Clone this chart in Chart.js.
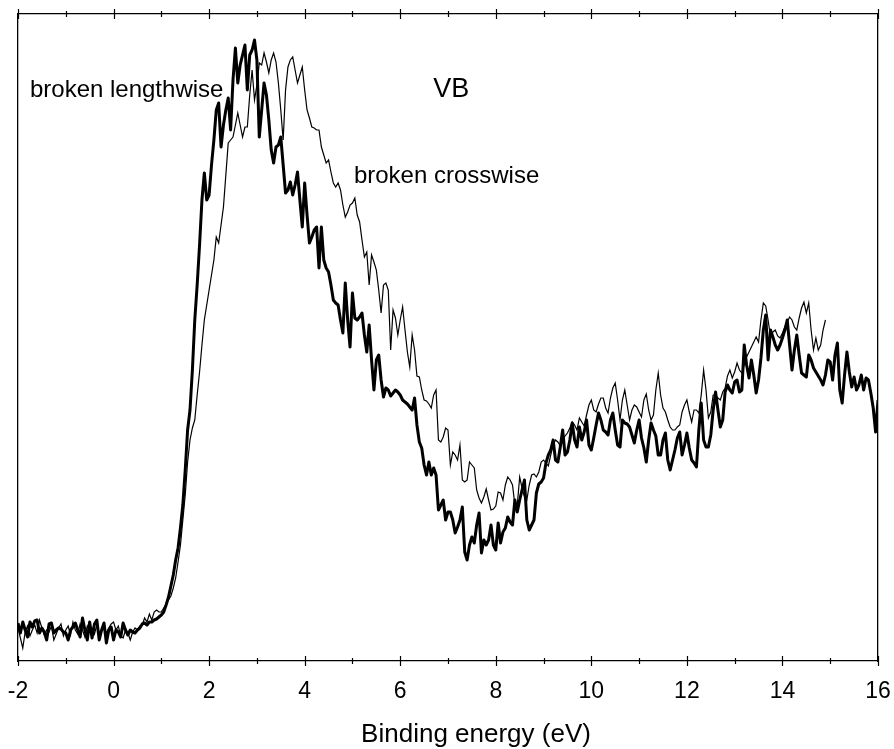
<!DOCTYPE html>
<html>
<head>
<meta charset="utf-8">
<title>VB spectra</title>
<script src="https://cdn.jsdelivr.net/npm/chart.js@4.4.1/dist/chart.umd.min.js"></script>
<style>
  html, body { margin: 0; padding: 0; background: #fff; }
  canvas { display: block; }
</style>
</head>
<body>
<canvas id="vb" width="894" height="749"></canvas>
<script>
// binding energy (eV), 0.05 eV steps
var energy = [
  -2.00,-1.95,-1.90,-1.85,-1.80,-1.75,-1.70,-1.65,-1.60,-1.55,
  -1.50,-1.45,-1.40,-1.35,-1.30,-1.25,-1.20,-1.15,-1.10,-1.05,
  -1.00,-0.95,-0.90,-0.85,-0.80,-0.75,-0.70,-0.65,-0.60,-0.55,
  -0.50,-0.45,-0.40,-0.35,-0.30,-0.25,-0.20,-0.15,-0.10,-0.05,
  0.00,0.05,0.10,0.15,0.20,0.25,0.30,0.35,0.40,0.45,
  0.50,0.55,0.60,0.65,0.70,0.75,0.80,0.85,0.90,0.95,
  1.00,1.05,1.10,1.15,1.20,1.25,1.30,1.35,1.40,1.45,
  1.50,1.55,1.60,1.65,1.70,1.75,1.80,1.85,1.90,1.95,
  2.00,2.05,2.10,2.15,2.20,2.25,2.30,2.35,2.40,2.45,
  2.50,2.55,2.60,2.65,2.70,2.75,2.80,2.85,2.90,2.95,
  3.00,3.05,3.10,3.15,3.20,3.25,3.30,3.35,3.40,3.45,
  3.50,3.55,3.60,3.65,3.70,3.75,3.80,3.85,3.90,3.95,
  4.00,4.05,4.10,4.15,4.20,4.25,4.30,4.35,4.40,4.45,
  4.50,4.55,4.60,4.65,4.70,4.75,4.80,4.85,4.90,4.95,
  5.00,5.05,5.10,5.15,5.20,5.25,5.30,5.35,5.40,5.45,
  5.50,5.55,5.60,5.65,5.70,5.75,5.80,5.85,5.90,5.95,
  6.00,6.05,6.10,6.15,6.20,6.25,6.30,6.35,6.40,6.45,
  6.50,6.55,6.60,6.65,6.70,6.75,6.80,6.85,6.90,6.95,
  7.00,7.05,7.10,7.15,7.20,7.25,7.30,7.35,7.40,7.45,
  7.50,7.55,7.60,7.65,7.70,7.75,7.80,7.85,7.90,7.95,
  8.00,8.05,8.10,8.15,8.20,8.25,8.30,8.35,8.40,8.45,
  8.50,8.55,8.60,8.65,8.70,8.75,8.80,8.85,8.90,8.95,
  9.00,9.05,9.10,9.15,9.20,9.25,9.30,9.35,9.40,9.45,
  9.50,9.55,9.60,9.65,9.70,9.75,9.80,9.85,9.90,9.95,
  10.00,10.05,10.10,10.15,10.20,10.25,10.30,10.35,10.40,10.45,
  10.50,10.55,10.60,10.65,10.70,10.75,10.80,10.85,10.90,10.95,
  11.00,11.05,11.10,11.15,11.20,11.25,11.30,11.35,11.40,11.45,
  11.50,11.55,11.60,11.65,11.70,11.75,11.80,11.85,11.90,11.95,
  12.00,12.05,12.10,12.15,12.20,12.25,12.30,12.35,12.40,12.45,
  12.50,12.55,12.60,12.65,12.70,12.75,12.80,12.85,12.90,12.95,
  13.00,13.05,13.10,13.15,13.20,13.25,13.30,13.35,13.40,13.45,
  13.50,13.55,13.60,13.65,13.70,13.75,13.80,13.85,13.90,13.95,
  14.00,14.05,14.10,14.15,14.20,14.25,14.30,14.35,14.40,14.45,
  14.50,14.55,14.60,14.65,14.70,14.75,14.80,14.85,14.90,14.95,
  15.00,15.05,15.10,15.15,15.20,15.25,15.30,15.35,15.40,15.45,
  15.50,15.55,15.60,15.65,15.70,15.75,15.80,15.85,15.90,15.95,
  16.00
];

// intensity, arbitrary units (thick curve)
var lengthwise = [
  38,28,39,31,24,39,34,40,41,28,
  33,29,21,37,38,28,31,33,32,29,
  28,21,31,34,38,31,24,43,31,21,
  39,23,37,41,21,31,38,18,31,34,
  21,31,29,24,38,31,26,31,29,28,
  31,33,37,38,36,39,39,41,42,44,
  46,49,56,64,75,86,101,113,133,156,
  191,231,251,291,341,376,416,461,488,461,
  466,496,521,551,558,514,536,551,563,531,
  581,613,578,596,606,616,571,606,611,621,
  601,524,551,578,566,541,511,498,514,516,
  524,496,468,471,479,466,476,489,461,434,
  478,446,418,424,431,434,393,434,401,393,
  389,376,361,358,356,341,328,378,341,314,
  368,343,341,344,348,326,309,336,301,271,
  301,306,281,264,273,271,265,268,271,269,
  266,261,259,257,254,251,263,236,219,213,
  196,186,199,186,193,186,151,156,161,141,
  149,149,141,128,134,141,154,109,101,116,
  124,118,136,148,108,121,116,121,136,116,
  111,138,118,129,133,144,139,136,161,149,
  161,171,181,141,131,136,141,168,177,179,
  183,198,206,211,221,201,199,214,231,206,
  209,221,238,221,214,234,221,229,241,216,
  211,223,236,248,241,231,229,226,241,248,
  231,216,214,241,238,237,234,226,218,231,
  241,223,213,199,221,238,231,225,206,206,
  221,228,201,191,201,211,223,229,206,216,
  228,213,201,198,194,231,258,221,214,214,
  226,251,269,251,234,241,269,276,271,268,
  279,281,269,271,316,296,283,301,286,268,
  281,303,331,346,301,331,324,316,311,316,
  323,331,341,316,291,311,326,306,288,286,
  284,306,301,293,289,285,281,276,286,301,
  299,281,306,318,271,258,286,309,289,274,
  284,271,276,286,271,283,281,268,253,229,
  261
];

// intensity, arbitrary units (thin curve, ends near 14.9 eV)
var crosswise = [
  33,23,13,29,35,25,31,36,28,41,
  33,26,31,29,35,21,27,33,37,25,
  31,35,26,39,31,27,37,31,24,35,
  29,33,27,36,23,31,34,28,33,37,
  39,31,35,25,23,31,28,21,29,33,
  31,35,36,43,39,47,41,49,51,49,
  49,53,57,61,65,73,83,99,116,141,
  166,199,221,233,241,266,289,316,341,356,
  371,386,401,424,418,436,454,486,518,521,
  524,536,548,536,524,534,534,566,591,561,
  576,598,596,608,599,588,601,608,599,578,
  551,521,571,594,601,604,591,578,586,594,
  571,551,543,534,533,531,531,514,506,498,
  501,489,478,474,478,471,456,444,449,456,
  458,463,446,439,421,404,409,376,406,399,
  391,371,348,376,378,371,311,351,343,326,
  341,354,331,309,294,326,311,285,284,271,
  261,260,257,253,266,271,221,219,224,233,
  231,196,209,206,201,216,181,179,181,199,
  196,193,171,163,158,164,172,161,151,152,
  155,169,168,161,176,184,181,176,156,156,
  184,173,164,161,176,186,187,184,189,199,
  201,198,195,206,216,221,219,215,221,225,
  228,233,239,236,231,243,239,235,246,256,
  261,251,249,257,263,263,253,248,263,273,
  278,261,241,261,271,256,241,251,256,254,
  249,244,261,267,251,241,246,271,288,266,
  253,249,241,234,231,231,234,236,249,256,
  261,249,239,251,251,248,266,291,271,243,
  249,266,266,263,261,269,273,285,291,283,
  289,298,291,288,296,304,309,314,319,324,
  319,341,358,355,341,324,329,331,325,323,
  328,334,339,344,341,334,331,343,353,359,
  348,358,331,311,323,311,316,331,341,null,
  null,null,null,null,null,null,null,null,null,null,
  null,null,null,null,null,null,null,null,null,null,
  null
];

var xTicks = [-2, 0, 2, 4, 6, 8, 10, 12, 14, 16];

var notes = [
  { text: "broken lengthwise", x: -1.75, y: 564, size: 24 },
  { text: "VB", x: 6.69, y: 564, size: 27 },
  { text: "broken crosswise", x: 5.03, y: 478, size: 24 }
];

var FONT = "'Liberation Sans', Arial, Helvetica, sans-serif";

function toPoints(xs, ys) {
  return xs.map(function (x, i) { return { x: x, y: ys[i] }; });
}

// ticks that cross the top and bottom frame, plus the text notes
var framePlugin = {
  id: "frame",
  afterDraw: function (chart) {
    var ctx = chart.ctx;
    var a = chart.chartArea;
    var xs = chart.scales.x;
    var ys = chart.scales.y;
    ctx.save();
    ctx.strokeStyle = "#000";
    ctx.lineWidth = 1.2;
    for (var v = -2; v <= 16; v++) {
      var px = Math.round(xs.getPixelForValue(v)) + 0.5;
      var len = v % 2 === 0 ? 5 : 3;
      [a.top, a.bottom].forEach(function (py) {
        ctx.beginPath();
        ctx.moveTo(px, py - len);
        ctx.lineTo(px, py + len);
        ctx.stroke();
      });
    }
    ctx.fillStyle = "#000";
    ctx.textBaseline = "alphabetic";
    ctx.textAlign = "left";
    notes.forEach(function (n) {
      ctx.font = n.size + "px " + FONT;
      ctx.fillText(n.text, xs.getPixelForValue(n.x), ys.getPixelForValue(n.y));
    });
    ctx.font = "26px " + FONT;
    ctx.textAlign = "center";
    ctx.fillText("Binding energy (eV)", (a.left + a.right) / 2 + 28, 742);
    ctx.restore();
  }
};

var ctx = document.getElementById("vb").getContext("2d");
var chart = new Chart(ctx, {
  type: "line",
  data: {
    datasets: [
      {
        label: "broken crosswise",
        data: toPoints(energy, crosswise),
        borderColor: "#000",
        borderWidth: 1.2,
        pointRadius: 0,
        tension: 0,
        spanGaps: false,
        order: 0
      },
      {
        label: "broken lengthwise",
        data: toPoints(energy, lengthwise),
        borderColor: "#000",
        borderWidth: 3,
        borderJoinStyle: "round",
        pointRadius: 0,
        tension: 0,
        order: 1
      }
    ]
  },
  options: {
    responsive: false,
    animation: false,
    layout: { padding: 0, autoPadding: false },
    plugins: {
      legend: { display: false },
      tooltip: { enabled: false }
    },
    scales: {
      x: {
        type: "linear",
        position: "bottom",
        min: -2,
        max: 16,
        afterBuildTicks: function (s) {
          s.ticks = xTicks.map(function (v) { return { value: v }; });
        },
        ticks: {
          color: "#000",
          font: { family: FONT, size: 23 },
          padding: 17,
          maxRotation: 0,
          autoSkip: false,
          callback: function (v) { return String(v); }
        },
        grid: { display: false, drawTicks: false },
        border: { display: true, color: "#000", width: 1.3 },
        afterFit: function (s) { s.height = 88; s.paddingLeft = 0; s.paddingRight = 0; }
      },
      xTop: {
        type: "linear",
        position: "top",
        min: -2,
        max: 16,
        ticks: { display: false },
        grid: { display: false, drawTicks: false },
        border: { display: true, color: "#000", width: 1.3 },
        afterFit: function (s) { s.height = 14; s.paddingLeft = 0; s.paddingRight = 0; }
      },
      y: {
        type: "linear",
        position: "left",
        min: 0,
        max: 647,
        ticks: { display: false },
        grid: { display: false, drawTicks: false },
        border: { display: true, color: "#000", width: 1.3 },
        afterFit: function (s) { s.width = 18; s.paddingTop = 0; s.paddingBottom = 0; }
      },
      yRight: {
        type: "linear",
        position: "right",
        min: 0,
        max: 647,
        ticks: { display: false },
        grid: { display: false, drawTicks: false },
        border: { display: true, color: "#000", width: 1.3 },
        afterFit: function (s) { s.width = 16; s.paddingTop = 0; s.paddingBottom = 0; }
      }
    }
  },
  plugins: [framePlugin]
});
</script>
</body>
</html>
